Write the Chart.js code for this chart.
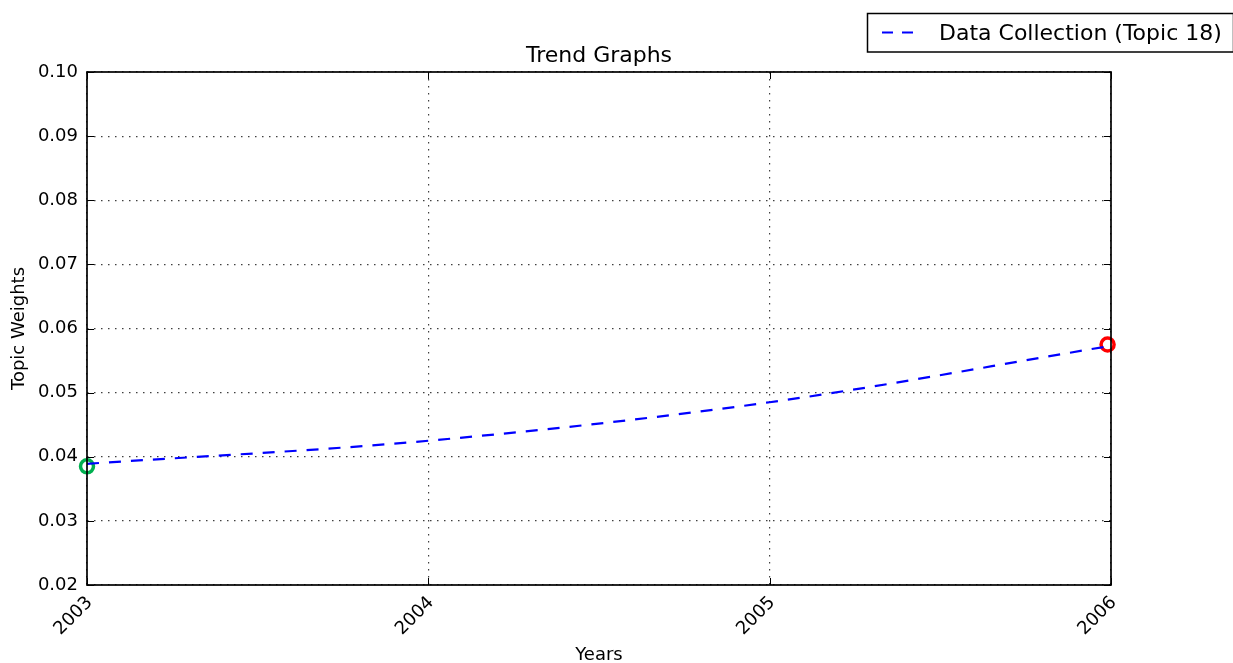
<!DOCTYPE html>
<html>
<head>
<meta charset="utf-8">
<script src="https://cdn.jsdelivr.net/npm/chart.js@4.4.1/dist/chart.umd.min.js"></script>
<style>
  html, body { margin: 0; padding: 0; background: #ffffff; }
  #wrap { width: 1233px; height: 663px; position: relative; }
</style>
</head>
<body>
<div id="wrap"><canvas id="trend" width="1233" height="663"></canvas></div>
<script>
// Topic 18 weight per year
const years = [2003, 2004, 2005, 2006];
const topicWeights = [0.0389, 0.0425, 0.0485, 0.0573];

// first / last highlighted points
const startPoint = { year: 2003, weight: 0.0385 };
const endPoint = { year: 2005.99, weight: 0.0575 };

const yearTickLabels = ['2003', '2004', '2005', '2006'];
const weightTicks = [0.02, 0.03, 0.04, 0.05, 0.06, 0.07, 0.08, 0.09, 0.10];

const seriesName = 'Data Collection (Topic 18)';
const chartTitle = 'Trend Graphs';
const xTitle = 'Years';
const yTitle = 'Topic Weights';

const FONT = '"DejaVu Sans", "Bitstream Vera Sans", sans-serif';

const framePlugin = {
  id: 'framePlugin',
  afterDraw(chart) {
    const { ctx, chartArea: a, scales } = chart;
    const xs = scales.x, ys = scales.y;
    ctx.save();

    // inward tick marks on all four sides
    ctx.strokeStyle = '#000';
    ctx.lineWidth = 1;
    const tl = 7;
    ys.ticks.forEach(t => {
      const py = Math.round(ys.getPixelForValue(t.value)) + 0.5;
      ctx.beginPath();
      ctx.moveTo(a.left, py); ctx.lineTo(a.left + tl, py);
      ctx.moveTo(a.right, py); ctx.lineTo(a.right - tl, py);
      ctx.stroke();
    });
    xs.ticks.forEach(t => {
      const px = Math.round(xs.getPixelForValue(t.value)) + 0.5;
      ctx.beginPath();
      ctx.moveTo(px, a.bottom); ctx.lineTo(px, a.bottom - tl);
      ctx.moveTo(px, a.top); ctx.lineTo(px, a.top + tl);
      ctx.stroke();
    });

    // axes frame
    ctx.lineWidth = 1.7;
    ctx.strokeRect(a.left, a.top, a.right - a.left, a.bottom - a.top);

    // rotated year labels
    ctx.fillStyle = '#000';
    ctx.font = '18px ' + FONT;
    ctx.textAlign = 'center';
    ctx.textBaseline = 'middle';
    xs.ticks.forEach((t, i) => {
      const px = xs.getPixelForValue(t.value);
      ctx.save();
      ctx.translate(px - 13.5, a.bottom + 31);
      ctx.rotate(-Math.PI / 4);
      ctx.fillText(yearTickLabels[i] ?? String(t.value), 0, 0);
      ctx.restore();
    });

    // axis titles
    ctx.font = '18px ' + FONT;
    ctx.textBaseline = 'alphabetic';
    ctx.fillText(xTitle, (a.left + a.right) / 2, 660);
    ctx.save();
    ctx.translate(24, (a.top + a.bottom) / 2);
    ctx.rotate(-Math.PI / 2);
    ctx.fillText(yTitle, 0, 0);
    ctx.restore();

    // chart title
    ctx.font = '22px ' + FONT;
    ctx.fillText(chartTitle, (a.left + a.right) / 2, 62);

    // legend box
    const lx = 867.5, ly = 13.5, lw = 366, lh = 38.5;
    ctx.fillStyle = '#fff';
    ctx.fillRect(lx, ly, lw, lh);
    ctx.lineWidth = 1.5;
    ctx.strokeStyle = '#000';
    ctx.strokeRect(lx, ly, lw, lh);
    ctx.strokeStyle = chart.data.datasets[0].borderColor;
    ctx.lineWidth = 2;
    ctx.setLineDash([11, 9]);
    ctx.beginPath();
    ctx.moveTo(882, 32.5); ctx.lineTo(913, 32.5);
    ctx.stroke();
    ctx.setLineDash([]);
    ctx.fillStyle = '#000';
    ctx.textAlign = 'left';
    ctx.font = '22px ' + FONT;
    ctx.fillText(seriesName, 939, 39.5);
    ctx.restore();
  }
};

new Chart(document.getElementById('trend'), {
  type: 'line',
  data: {
    datasets: [
      {
        label: seriesName,
        data: years.map((y, i) => ({ x: y, y: topicWeights[i] })),
        borderColor: '#0000ff',
        borderWidth: 2.2,
        borderDash: [12, 10],
        cubicInterpolationMode: 'monotone',
        pointRadius: 0,
        fill: false
      },
      {
        label: 'start',
        data: [{ x: startPoint.year, y: startPoint.weight }],
        showLine: false,
        pointRadius: 6.5,
        pointBorderWidth: 3.5,
        pointBorderColor: '#00b050',
        pointBackgroundColor: '#ffffff',
        clip: false
      },
      {
        label: 'end',
        data: [{ x: endPoint.year, y: endPoint.weight }],
        showLine: false,
        pointRadius: 6.5,
        pointBorderWidth: 3.5,
        pointBorderColor: '#ff0000',
        pointBackgroundColor: '#ffffff',
        clip: false
      }
    ]
  },
  options: {
    responsive: false,
    animation: false,
    events: [],
    layout: { padding: { left: 0, right: 122, top: 72, bottom: 0 } },
    plugins: {
      legend: { display: false },
      title: { display: false },
      tooltip: { enabled: false }
    },
    scales: {
      x: {
        type: 'linear',
        min: years[0],
        max: years[years.length - 1],
        afterFit: s => { s.height = 78; },
        afterBuildTicks: s => { s.ticks = years.map(v => ({ value: v })); },
        ticks: { display: false },
        grid: { color: 'rgba(0,0,0,0.75)', lineWidth: 1.2, drawTicks: false },
        border: { display: false, dash: [1.5, 5.5] }
      },
      y: {
        type: 'linear',
        min: weightTicks[0],
        max: weightTicks[weightTicks.length - 1],
        afterFit: s => { s.width = 87; },
        afterBuildTicks: s => { s.ticks = weightTicks.map(v => ({ value: v })); },
        ticks: {
          color: '#000',
          padding: 9,
          font: { family: FONT, size: 18 },
          callback: v => v.toFixed(2)
        },
        grid: { color: 'rgba(0,0,0,0.75)', lineWidth: 1.2, drawTicks: false },
        border: { display: false, dash: [1.5, 5.5] }
      }
    }
  },
  plugins: [framePlugin]
});
</script>
</body>
</html>
